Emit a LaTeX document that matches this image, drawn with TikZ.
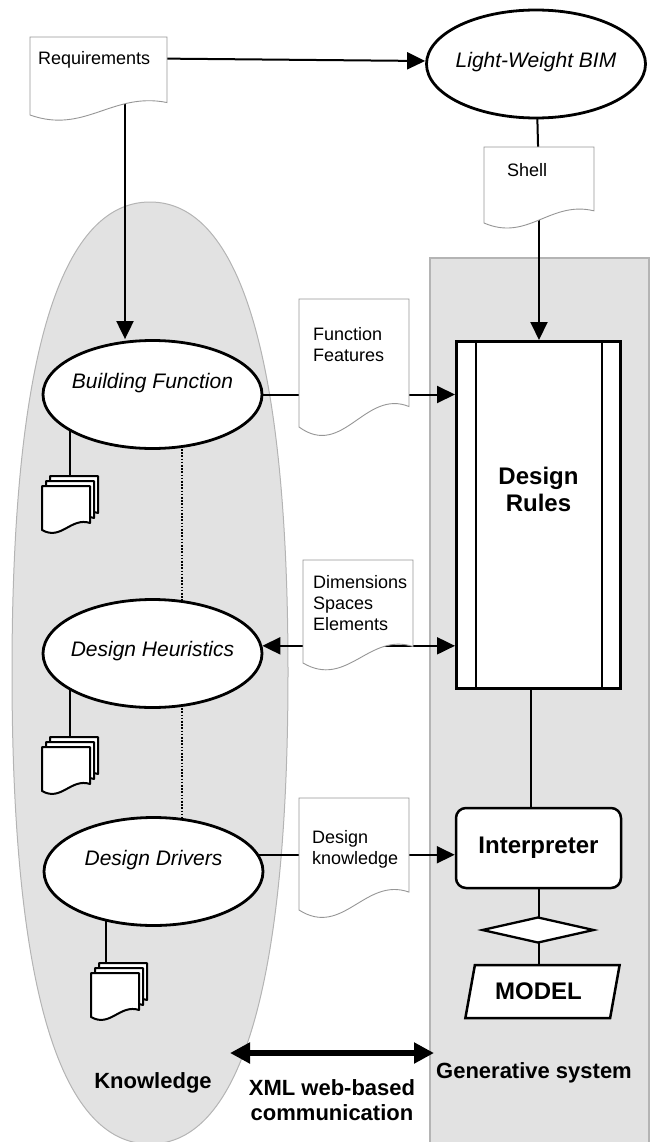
\documentclass[tikz,border=0pt]{standalone}
\usepackage{fontspec}
\setmainfont{Liberation Sans}
\usetikzlibrary{arrows.meta,shapes.geometric,calc}
\pgfdeclarelayer{bg}
\pgfdeclarelayer{wires}
\pgfsetlayers{bg,wires,main}

\definecolor{zone}{RGB}{226,226,226}
\definecolor{zoneedge}{RGB}{180,180,180}
\definecolor{sheetedge}{RGB}{150,150,150}

% page outline with a wavy foot: x, y (top left), width, left height
\newcommand\sheetpath[4]{({#1},{#2+#4}) -- ({#1},{#2}) -- ({#1+#3},{#2}) -- ({#1+#3},{#2+0.84*#4})
  .. controls ({#1+0.6*#3},{#2+0.7*#4}) and ({#1+0.4*#3},{#2+1.25*#4}) .. ({#1},{#2+#4}) -- cycle}

% named document sheet: name, x, y, width, height
\newcommand\docsheet[5]{%
  \node[sheetframe, minimum width=#4pt, minimum height=#5pt, anchor=north west] (#1) at (#2,#3) {};
  \draw[sheet] \sheetpath{#2}{#3}{#4}{#5};}

% small pile of three pages, front page top left corner given
\newcommand\pagepile[2]{%
  \foreach \d in {2,1,0} {\draw[pilepage] \sheetpath{#1+4*\d}{#2-5*\d}{48}{44};}}

\begin{document}
\begin{tikzpicture}[x=1pt,y=-1pt,
  sheetframe/.style={rectangle, inner sep=0pt, outer sep=0pt},
  sheet/.style={draw=sheetedge, line width=0.9pt, fill=white},
  pilepage/.style={draw=black, line width=2pt, fill=white, line join=round},
  sheettext/.style={font=\fontsize{18}{21}\selectfont, align=left, inner sep=0pt},
  oval/.style={ellipse, draw, line width=2.8pt, fill=white, minimum width=219pt, minimum height=108pt, inner sep=0pt},
  ovaltext/.style={font=\fontsize{21}{24}\selectfont\itshape, inner sep=0pt},
  bigbold/.style={font=\fontsize{24}{27}\selectfont\bfseries, align=center},
  caption/.style={font=\fontsize{22}{25}\selectfont\bfseries, align=center, inner sep=0pt},
  wire/.style={line width=2pt},
  arrowwire/.style={line width=2pt, -{Triangle[length=18pt,width=17pt]}},
  zonebox/.style={rectangle, draw=zoneedge, line width=1.5pt, fill=zone, inner sep=0pt}
]
\useasboundingbox (0,0) rectangle (652,1142);

% ---------- shaded regions ----------
\begin{pgfonlayer}{bg}
  \fill[zone, draw=zoneedge, line width=1pt]
    (150,202) .. controls (241,202) and (288,362) .. (288,672)
    .. controls (288,984) and (241,1144) .. (150,1144)
    .. controls (59,1144) and (12,984) .. (12,672)
    .. controls (12,362) and (59,202) .. (150,202) -- cycle;
  \node[zonebox, minimum width=219pt, minimum height=900pt, anchor=north west] (gensys) at (429,257) {};
\end{pgfonlayer}

% ---------- ovals ----------
\node[oval] (bim) at (536,64) {};
\node[ovaltext] (bimtxt) at (536,62) {Light-Weight BIM};
\node[oval] (bf) at (152.5,394.5) {};
\node[ovaltext] (bftxt) at (152.5,383) {Building Function};
\node[oval] (dh) at (152.5,653.5) {};
\node[ovaltext] (dhtxt) at (152.5,651) {Design Heuristics};
\node[oval] (dd) at (153.5,871.5) {};
\node[ovaltext] (ddtxt) at (153.5,860) {Design Drivers};

% ---------- document sheets ----------
\docsheet{req}{30}{37}{137}{78}
\node[sheettext, anchor=west] (reqtxt) at (38,60) {Requirements};
\docsheet{shell}{484}{147}{110}{76}
\node[sheettext, anchor=west] (shelltxt) at (507,170) {Shell};
\docsheet{ffdoc}{299}{299}{110}{128}
\node[sheettext, anchor=west] (fftxt) at (313,345) {Function\\Features};
\docsheet{dimdoc}{303}{560}{110}{103}
\node[sheettext, anchor=west] (dimtxt) at (313,603) {Dimensions\\Spaces\\Elements};
\docsheet{dkdoc}{299}{798}{110}{112}
\node[sheettext, anchor=west] (dktxt) at (312,849) {Design\\knowledge};

% ---------- page piles ----------
\pagepile{42}{486}
\pagepile{42}{747}
\pagepile{91}{973}
\coordinate (bfpile) at (70,476);
\coordinate (dhpile) at (70,737);
\coordinate (ddpile) at (106,963);

% ---------- generative system blocks ----------
\node[rectangle, draw, line width=3pt, fill=white, minimum width=164pt, minimum height=347pt, inner sep=0pt] (dr) at (538.5,515) {};
\draw[line width=2.5pt] ([xshift=21pt]dr.north west) -- ([xshift=21pt]dr.south west);
\draw[line width=2.5pt] ([xshift=-20pt]dr.north east) -- ([xshift=-20pt]dr.south east);
\node[bigbold] (drtxt) at (538.5,489) {Design\\Rules};

\node[rectangle, rounded corners=10pt, draw, line width=2.5pt, fill=white, minimum width=165pt, minimum height=80pt, bigbold] (interp) at (538.5,848) {Interpreter};
\node[diamond, draw, line width=2.3pt, fill=white, aspect=4.3, minimum width=112pt, minimum height=26pt, inner sep=0pt] (gate) at (538,930) {};
\node[trapezium, trapezium left angle=72, trapezium right angle=108, trapezium stretches=true,
  draw, line width=2.5pt, fill=white, minimum width=155pt, minimum height=53pt, inner sep=0pt,
  font=\fontsize{24}{27}\selectfont\bfseries] (model) at (542.5,991.5) {\hspace*{-8pt}MODEL};

% ---------- connectors ----------
\begin{pgfonlayer}{wires}
  \coordinate (reqdrop) at ([xshift=95pt]req.south west);
  \draw[arrowwire] ([yshift=6pt]req.center |- bim.west) -- ([yshift=3pt]bim.west);
  \draw[arrowwire] (reqdrop |- req.center) -- (reqdrop |- bf.north);
  \draw[wire] (bim.center) -- (shell.center);
  \draw[arrowwire] (shell.center) -- (shell.center |- dr.north);
  \draw[wire] (bf.center) -- (bf.center -| ffdoc.center);
  \draw[arrowwire] (bf.center -| ffdoc.center) -- (bf.center -| dr.west);
  \draw[arrowwire] (dh.4.4 -| dimdoc.center) -- (dh.4.4);
  \draw[arrowwire] (dh.4.4 -| dimdoc.center) -- (dh.4.4 -| dr.west);
  \draw[wire] (dd.9.7) -- (dd.9.7 -| dkdoc.center);
  \draw[arrowwire] (dd.9.7 -| dkdoc.center) -- (dd.9.7 -| interp.west);
  \draw[wire] ([xshift=-8pt]dr.south) -- ([xshift=-8pt]dr.south |- interp.north);
  \draw[wire] (interp.center) -- (interp.center |- model.center);
  \draw[wire] (bfpile |- bf.center) -- (bfpile);
  \draw[wire] (dhpile |- dh.center) -- (dhpile);
  \draw[wire] (ddpile |- dd.center) -- (ddpile);
  \coordinate (spine) at (182,0);
  \draw[line width=2pt, dash pattern=on 1.6pt off 1.6pt] (bf.center -| spine) -- (dd.center -| spine);
\end{pgfonlayer}

% ---------- exchange between the two parts ----------
\coordinate (knend) at (230,1053);
\coordinate (gsend) at (434,1053);
\draw[line width=6pt, {Triangle[length=20pt,width=20pt]}-{Triangle[length=20pt,width=20pt]}] (knend) -- (gsend);
\node[caption] (kntxt) at (153,1083) {Knowledge};
\node[caption] (gstxt) at (534,1073) {Generative system};
\node[caption] (xmltxt) at (332,1100) {XML web-based\\communication};
\end{tikzpicture}
\end{document}
